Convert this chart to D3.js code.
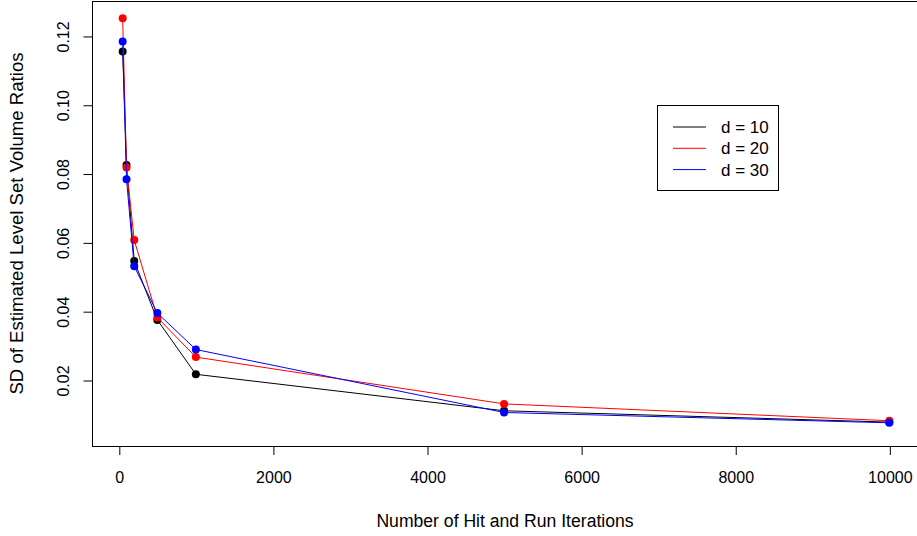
<!DOCTYPE html>
<html>
<head>
<meta charset="utf-8">
<script src="https://cdn.jsdelivr.net/npm/d3@7"></script>
<style>
  body { margin: 0; background: #fff; }
  svg { font-family: "Liberation Sans", Arial, Helvetica, sans-serif; }
</style>
</head>
<body>
<div id="chart"></div>
<script>
// iterations on the x axis
const iterations = [50, 100, 200, 500, 1000, 5000, 10000];
// SD of estimated level set volume ratios, one list per dimension
const d10 = [0.1156, 0.0826, 0.0547, 0.0376, 0.0218, 0.0112, 0.0079];
const d20 = [0.1253, 0.0819, 0.0608, 0.0383, 0.0268, 0.0132, 0.0083];
const d30 = [0.1185, 0.0785, 0.0532, 0.0396, 0.0290, 0.0107, 0.0077];
const seriesNames = ['d = 10', 'd = 20', 'd = 30'];
const seriesColors = ['#000000', '#ff0000', '#0000ff'];
const xTicks = [0, 2000, 4000, 6000, 8000, 10000];
const yTicks = [0.02, 0.04, 0.06, 0.08, 0.10, 0.12];

const width = 917, height = 536;
const plot = { left: 92, right: 920, top: 1, bottom: 446 };

const svg = d3.select('#chart')
   .append('svg')
   .attr('width', width)
   .attr('height', height);

// R style: data range padded by 4%
const xScale = d3.scaleLinear()
   .domain([-348, 10398])
   .range([plot.left, plot.right]);
const yScale = d3.scaleLinear()
   .domain([0.00096, 0.1303])
   .range([plot.bottom, plot.top]);

// box
svg.append('rect')
   .attr('x', plot.left + 0.5)
   .attr('y', plot.top + 0.5)
   .attr('width', plot.right - plot.left)
   .attr('height', plot.bottom - plot.top)
   .attr('fill', 'none')
   .attr('stroke', '#000')
   .attr('stroke-width', 1);

// x axis, detached below the box
const xAxis = d3.axisBottom(xScale)
   .tickValues(xTicks)
   .tickSize(9)
   .tickPadding(17)
   .tickFormat(d3.format('d'));
const gx = svg.append('g')
   .attr('transform', `translate(0.5,${plot.bottom})`)
   .call(xAxis);
gx.select('.domain').remove();
gx.selectAll('text').style('font-size', '16px').attr('fill', '#000');

// y axis, rotated labels
const yAxis = d3.axisLeft(yScale)
   .tickValues(yTicks)
   .tickSize(9)
   .tickFormat(d3.format('.2f'));
const gy = svg.append('g')
   .attr('transform', `translate(${plot.left + 0.5},0.5)`)
   .call(yAxis);
gy.select('.domain').remove();
gy.selectAll('.tick').attr('transform', 'translate(0,0)');
gy.selectAll('.tick line')
   .attr('y1', d => yScale(d))
   .attr('y2', d => yScale(d));
gy.selectAll('text')
   .attr('x', 0)
   .attr('y', 0)
   .attr('dy', 0)
   .attr('transform', d => `translate(-24,${yScale(d)}) rotate(-90)`)
   .style('text-anchor', 'middle')
   .style('font-size', '16px')
   .attr('fill', '#000');

// axis titles
svg.append('text')
   .attr('x', (plot.left + plot.right) / 2 - 1)
   .attr('y', 527)
   .style('text-anchor', 'middle')
   .style('font-size', '17.6px')
   .text('Number of Hit and Run Iterations');

svg.append('text')
   .attr('transform', `translate(23,${(plot.top + plot.bottom) / 2}) rotate(-90)`)
   .style('text-anchor', 'middle')
   .style('font-size', '18.6px')
   .text('SD of Estimated Level Set Volume Ratios');

// series
const series = [d10, d20, d30];
const line = d3.line()
   .x((d, i) => xScale(iterations[i]))
   .y(d => yScale(d));

series.forEach((vals, k) => {
   svg.append('path')
      .datum(vals)
      .attr('d', line)
      .attr('fill', 'none')
      .attr('stroke', seriesColors[k])
      .attr('stroke-width', 1);
   svg.selectAll(`.pt${k}`)
      .data(vals)
      .enter()
      .append('circle')
      .attr('class', `pt${k}`)
      .attr('cx', (d, i) => xScale(iterations[i]))
      .attr('cy', d => yScale(d))
      .attr('r', 4)
      .attr('fill', seriesColors[k]);
});

// legend
const legend = svg.append('g');
legend.append('rect')
   .attr('x', 657.5)
   .attr('y', 105.5)
   .attr('width', 121)
   .attr('height', 85)
   .attr('fill', '#fff')
   .attr('stroke', '#000');
seriesNames.forEach((name, k) => {
   const yy = 127 + k * 21.3;
   legend.append('line')
      .attr('x1', 673).attr('x2', 706)
      .attr('y1', yy).attr('y2', yy)
      .attr('stroke', seriesColors[k]);
   legend.append('text')
      .attr('x', 721)
      .attr('y', yy + 6)
      .style('font-size', '17px')
      .text(name);
});
</script>
</body>
</html>
